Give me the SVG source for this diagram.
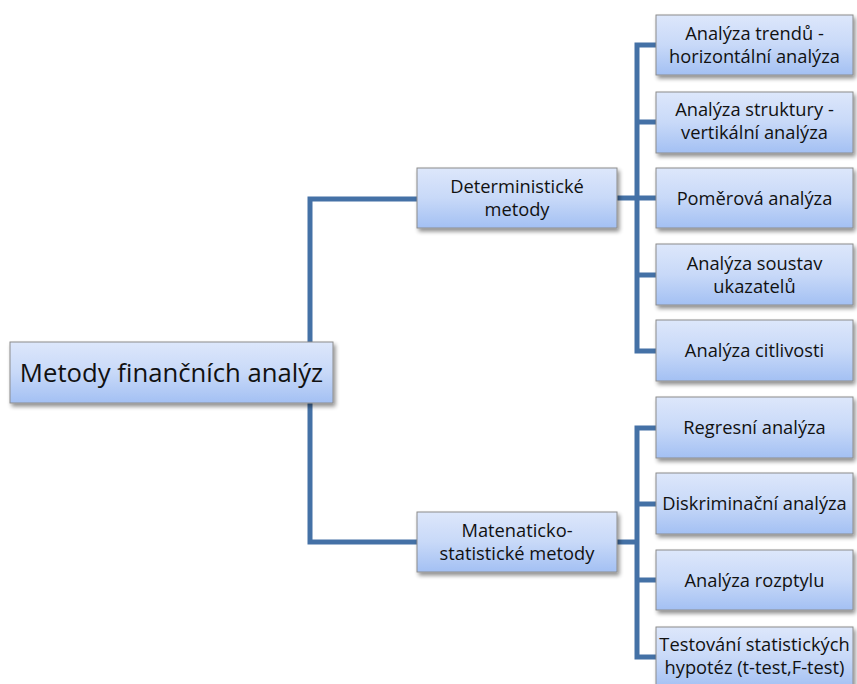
<svg xmlns="http://www.w3.org/2000/svg" width="857" height="684" viewBox="0 0 857 684">
<defs>
<linearGradient id="g" x1="0" y1="0" x2="0" y2="1">
<stop offset="0" stop-color="#dde7fb"/>
<stop offset="0.5" stop-color="#c8d9f8"/>
<stop offset="1" stop-color="#a3c0f3"/>
</linearGradient>
<filter id="sh" x="-10%" y="-20%" width="130%" height="160%">
<feGaussianBlur in="SourceAlpha" stdDeviation="2"/>
<feOffset dx="2" dy="3" result="b"/>
<feComponentTransfer><feFuncA type="linear" slope="0.45"/></feComponentTransfer>
<feMerge><feMergeNode/><feMergeNode in="SourceGraphic"/></feMerge>
</filter>
</defs>
<style>
.box{fill:url(#g);stroke:#8c8c8c;stroke-width:1;filter:url(#sh)}
.t{font-family:"Open Sans","Liberation Sans",Arial,sans-serif;font-size:18.3px;fill:#111;text-anchor:middle}
.r{font-size:25.7px}
.c{fill:none;stroke:#4471a6;stroke-width:5;stroke-linejoin:miter;stroke-linecap:butt}
</style>
<rect width="857" height="684" fill="#ffffff"/>
<g id="connectors">
<path class="c" d="M417,199 H310 V542 H417"/>
<path class="c" d="M617,198 H637"/>
<path class="c" d="M656,45 H637 V351 H656"/>
<path class="c" d="M637,122 H656 M637,198 H656 M637,275 H656"/>
<path class="c" d="M617,542 H637"/>
<path class="c" d="M656,428 H637 V657 H656"/>
<path class="c" d="M637,504 H656 M637,580 H656"/>
</g>
<g id="root">
<rect class="box" x="10" y="342" width="323" height="61"/>
<text class="t r" x="171.5" y="382">Metody finančních analýz</text>
</g>
<g id="deterministicke">
<rect class="box" x="417" y="168" width="200" height="60"/>
<text class="t" x="517" y="193">Deterministické</text>
<text class="t" x="517" y="216">metody</text>
</g>
<g id="matstat">
<rect class="box" x="417" y="512" width="200" height="60"/>
<text class="t" x="517" y="537">Matenaticko-</text>
<text class="t" x="517" y="560">statistické metody</text>
</g>
<g id="trend">
<rect class="box" x="656" y="15" width="197" height="60"/>
<text class="t" x="754.5" y="40">Analýza trendů -</text>
<text class="t" x="754.5" y="63">horizontální analýza</text>
</g>
<g id="struktura">
<rect class="box" x="656" y="92" width="197" height="61"/>
<text class="t" x="754.5" y="116">Analýza struktury -</text>
<text class="t" x="754.5" y="139">vertikální analýza</text>
</g>
<g id="pomerova">
<rect class="box" x="656" y="168" width="197" height="60"/>
<text class="t" x="754.5" y="205">Poměrová analýza</text>
</g>
<g id="soustavy">
<rect class="box" x="656" y="244" width="197" height="61"/>
<text class="t" x="754.5" y="270">Analýza soustav</text>
<text class="t" x="754.5" y="293">ukazatelů</text>
</g>
<g id="citlivost">
<rect class="box" x="656" y="320" width="197" height="61"/>
<text class="t" x="754.5" y="357">Analýza citlivosti</text>
</g>
<g id="regresni">
<rect class="box" x="656" y="397" width="197" height="61"/>
<text class="t" x="754.5" y="434">Regresní analýza</text>
</g>
<g id="diskriminacni">
<rect class="box" x="656" y="473" width="197" height="61"/>
<text class="t" x="754.5" y="510">Diskriminační analýza</text>
</g>
<g id="rozptyl">
<rect class="box" x="656" y="550" width="197" height="60"/>
<text class="t" x="754.5" y="587">Analýza rozptylu</text>
</g>
<g id="hypotezy">
<rect class="box" x="656" y="627" width="197" height="61"/>
<text class="t" x="754.5" y="651">Testování statistických</text>
<text class="t" x="754.5" y="674">hypotéz (t-test,F-test)</text>
</g>
</svg>
